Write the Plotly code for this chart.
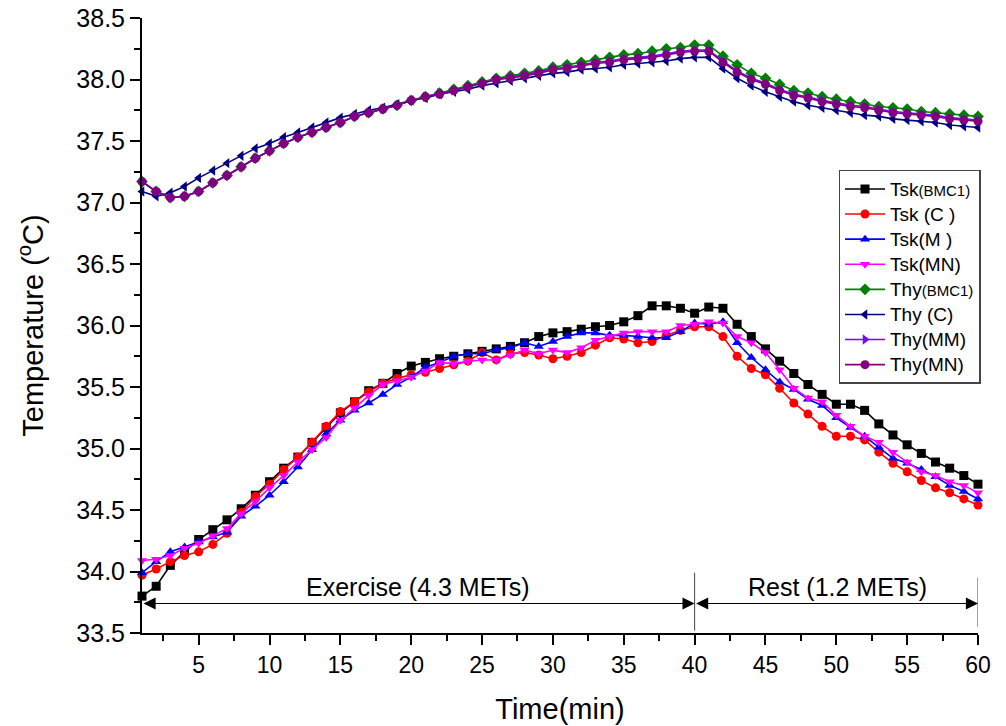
import plotly.graph_objects as go

time_min = list(range(1, 61))

tsk_bmc1 = [33.80, 33.88, 34.05, 34.16, 34.26, 34.34, 34.42, 34.51, 34.62, 34.73,
            34.84, 34.93, 35.05, 35.17, 35.29, 35.38, 35.47, 35.53, 35.61, 35.67,
            35.70, 35.73, 35.75, 35.77, 35.79, 35.81, 35.83, 35.86, 35.91, 35.94,
            35.95, 35.97, 35.99, 36.00, 36.03, 36.08, 36.16, 36.16, 36.14, 36.10,
            36.15, 36.14, 36.01, 35.91, 35.81, 35.71, 35.61, 35.52, 35.44, 35.36,
            35.36, 35.31, 35.20, 35.11, 35.03, 34.96, 34.89, 34.84, 34.78, 34.71]

tsk_c = [33.97, 34.02, 34.08, 34.13, 34.16, 34.22, 34.31, 34.48, 34.61, 34.71,
         34.83, 34.93, 35.05, 35.18, 35.30, 35.38, 35.46, 35.53, 35.57, 35.60,
         35.62, 35.65, 35.68, 35.71, 35.78, 35.72, 35.77, 35.78, 35.76, 35.73,
         35.75, 35.78, 35.84, 35.90, 35.89, 35.86, 35.87, 35.92, 35.96, 35.99,
         35.99, 35.91, 35.75, 35.65, 35.60, 35.49, 35.37, 35.28, 35.18, 35.10,
         35.10, 35.07, 34.97, 34.88, 34.81, 34.74, 34.68, 34.64, 34.59, 34.54]

tsk_m = [33.99, 34.08, 34.16, 34.20, 34.24, 34.28, 34.32, 34.45, 34.53, 34.62,
         34.73, 34.85, 34.99, 35.12, 35.23, 35.31, 35.37, 35.44, 35.52, 35.58,
         35.66, 35.70, 35.75, 35.77, 35.77, 35.80, 35.82, 35.86, 35.83, 35.87,
         35.91, 35.94, 35.94, 35.92, 35.92, 35.91, 35.90, 35.90, 35.95, 36.02,
         36.01, 36.03, 35.86, 35.74, 35.64, 35.54, 35.48, 35.40, 35.35, 35.25,
         35.17, 35.10, 35.01, 34.92, 34.88, 34.83, 34.77, 34.70, 34.65, 34.59]

tsk_mn = [34.09, 34.10, 34.13, 34.19, 34.23, 34.29, 34.35, 34.47, 34.57, 34.68,
          34.78, 34.89, 34.99, 35.09, 35.23, 35.33, 35.43, 35.52, 35.55, 35.58,
          35.63, 35.70, 35.69, 35.71, 35.72, 35.72, 35.76, 35.80, 35.77, 35.80,
          35.78, 35.82, 35.88, 35.91, 35.94, 35.95, 35.95, 35.95, 36.00, 36.01,
          36.03, 36.02, 35.91, 35.86, 35.78, 35.64, 35.49, 35.41, 35.38, 35.27,
          35.18, 35.10, 35.05, 34.97, 34.89, 34.81, 34.78, 34.73, 34.70, 34.64]

thy_bmc1 = [37.17, 37.09, 37.04, 37.05, 37.09, 37.16, 37.22, 37.29, 37.36, 37.42,
            37.48, 37.53, 37.57, 37.61, 37.65, 37.70, 37.73, 37.76, 37.79, 37.83,
            37.86, 37.89, 37.92, 37.95, 37.98, 38.01, 38.03, 38.05, 38.07, 38.10,
            38.12, 38.14, 38.16, 38.18, 38.20, 38.21, 38.23, 38.25, 38.26, 38.28,
            38.28, 38.19, 38.12, 38.05, 38.01, 37.96, 37.91, 37.89, 37.86, 37.84,
            37.82, 37.80, 37.78, 37.77, 37.76, 37.74, 37.73, 37.72, 37.71, 37.70]

thy_c = [37.09, 37.05, 37.08, 37.13, 37.20, 37.26, 37.32, 37.38, 37.44, 37.48,
         37.53, 37.57, 37.61, 37.65, 37.69, 37.72, 37.75, 37.77, 37.80, 37.83,
         37.85, 37.88, 37.90, 37.92, 37.95, 37.97, 37.99, 38.01, 38.03, 38.05,
         38.06, 38.08, 38.09, 38.10, 38.12, 38.13, 38.14, 38.15, 38.17, 38.18,
         38.18, 38.09, 38.01, 37.95, 37.90, 37.86, 37.82, 37.79, 37.77, 37.75,
         37.73, 37.71, 37.70, 37.68, 37.67, 37.66, 37.65, 37.63, 37.62, 37.61]

thy_mm = [37.17, 37.09, 37.04, 37.05, 37.09, 37.16, 37.22, 37.29, 37.36, 37.42,
          37.48, 37.53, 37.57, 37.61, 37.65, 37.70, 37.73, 37.76, 37.79, 37.83,
          37.86, 37.89, 37.91, 37.94, 37.97, 38.00, 38.02, 38.04, 38.06, 38.09,
          38.10, 38.12, 38.14, 38.15, 38.17, 38.18, 38.19, 38.21, 38.23, 38.24,
          38.24, 38.15, 38.07, 38.01, 37.97, 37.92, 37.88, 37.86, 37.83, 37.81,
          37.79, 37.78, 37.76, 37.74, 37.73, 37.72, 37.71, 37.69, 37.68, 37.67]

thy_mn = [37.17, 37.09, 37.04, 37.05, 37.09, 37.16, 37.22, 37.29, 37.36, 37.42,
          37.48, 37.53, 37.57, 37.61, 37.65, 37.70, 37.73, 37.76, 37.79, 37.83,
          37.86, 37.88, 37.91, 37.94, 37.97, 38.00, 38.01, 38.03, 38.05, 38.08,
          38.09, 38.11, 38.13, 38.14, 38.16, 38.17, 38.18, 38.20, 38.22, 38.23,
          38.23, 38.14, 38.06, 38.00, 37.96, 37.91, 37.87, 37.85, 37.82, 37.80,
          37.78, 37.77, 37.75, 37.73, 37.72, 37.71, 37.70, 37.68, 37.67, 37.66]

x_tick_vals = [5, 10, 15, 20, 25, 30, 35, 40, 45, 50, 55, 60]


def lbl(main, small=None):
    s = "<span style='font-size:19px'>" + main + "</span>"
    if small:
        s += "<span style='font-size:15px'>" + small + "</span>"
    return s


series = [
    (lbl("Tsk", "(BMC1)"), tsk_bmc1, "#000000", "square"),
    (lbl("Tsk (C )"), tsk_c, "#FF0000", "circle"),
    (lbl("Tsk(M )"), tsk_m, "#0000FF", "triangle-up"),
    (lbl("Tsk(MN)"), tsk_mn, "#FF00FF", "triangle-down"),
    (lbl("Thy", "(BMC1)"), thy_bmc1, "#008000", "diamond"),
    (lbl("Thy (C)"), thy_c, "#000080", "triangle-left"),
    (lbl("Thy(MM)"), thy_mm, "#8000FF", "triangle-right"),
    (lbl("Thy(MN)"), thy_mn, "#800080", "circle"),
]

FONT = "Liberation Sans, Arial, sans-serif"

fig = go.Figure()
for name, vals, color, sym in series:
    fig.add_trace(go.Scatter(
        x=time_min, y=vals, name=name, mode="lines+markers",
        line=dict(color=color, width=1.6),
        marker=dict(symbol=sym, size=9, color=color),
        cliponaxis=False,
    ))

# phase arrows
arrow_y = 33.74
for x0, x1 in [(1, 40), (40, 60)]:
    fig.add_annotation(x=x1, y=arrow_y, ax=x0, ay=arrow_y, xref="x", yref="y",
                       axref="x", ayref="y", text="", showarrow=True,
                       arrowhead=2, arrowside="end+start", arrowsize=2.2,
                       arrowwidth=1.1, arrowcolor="black", standoff=0, startstandoff=0)
fig.add_shape(type="line", x0=40, x1=40, y0=33.52, y1=33.99, xref="x", yref="y",
              line=dict(color="#444", width=1))
fig.add_shape(type="line", x0=60, x1=60, y0=33.55, y1=33.95, xref="x", yref="y",
              line=dict(color="#444", width=1))
fig.add_annotation(x=20.5, y=33.87, text="Exercise (4.3 METs)", showarrow=False,
                   font=dict(size=25, color="black", family=FONT))
fig.add_annotation(x=50.1, y=33.87, text="Rest (1.2 METs)", showarrow=False,
                   font=dict(size=25, color="black", family=FONT))

fig.update_layout(
    width=1006, height=726,
    margin=dict(l=142, r=28, t=18, b=93),
    paper_bgcolor="white", plot_bgcolor="white",
    font=dict(family=FONT, color="black"),
    showlegend=True,
    legend=dict(x=1.003, xanchor="right", y=0.753, yanchor="top",
                bordercolor="#444", borderwidth=1.5, bgcolor="white",
                font=dict(size=17, family=FONT), itemwidth=40,
                tracegroupgap=0),
)
fig.update_xaxes(
    range=[1, 60], tickvals=x_tick_vals, showgrid=False, zeroline=False,
    showline=True, linecolor="black", linewidth=2, automargin=False,
    ticks="outside", ticklen=10, tickwidth=2, tickcolor="black",
    minor=dict(dtick=2.5, tick0=0, ticks="outside", ticklen=6, tickwidth=1.5, tickcolor="black"),
    tickfont=dict(size=23, family=FONT),
    title=dict(text="Time(min)", font=dict(size=29, family=FONT), standoff=22),
)
fig.update_yaxes(
    range=[33.5, 38.5], dtick=0.5, tick0=33.5, tickformat=".1f",
    showgrid=False, zeroline=False, automargin=False,
    showline=True, linecolor="black", linewidth=2,
    ticks="outside", ticklen=10, tickwidth=2, tickcolor="black",
    minor=dict(dtick=0.25, ticks="outside", ticklen=6, tickwidth=1.5, tickcolor="black"),
    tickfont=dict(size=25, family=FONT),
    title=dict(text="Temperature (<sup>o</sup>C)", font=dict(size=29, family=FONT), standoff=24),
)

fig.write_html("out.html")
